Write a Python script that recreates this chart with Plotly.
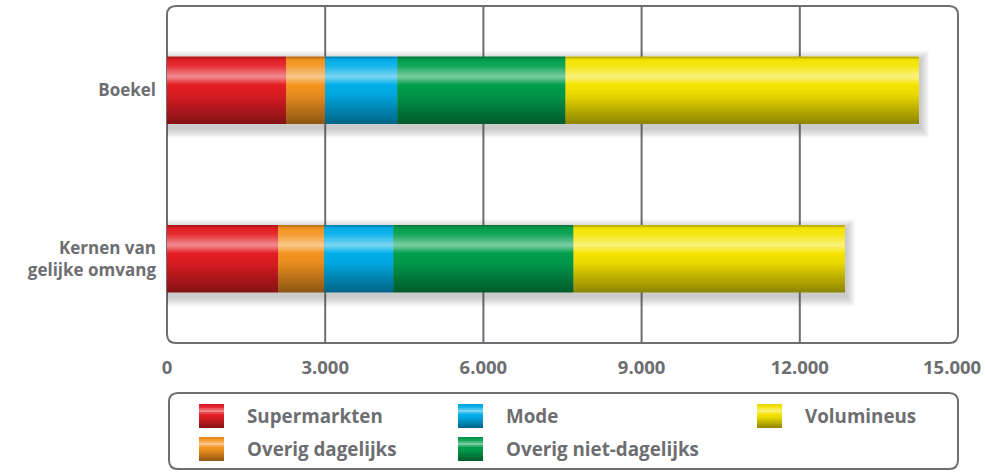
import plotly.graph_objects as go

# Winkelvloeroppervlak (m² wvo) per branchegroep
categories = ["Boekel", "Kernen van<br>gelijke omvang"]
series_names = ["Supermarkten", "Overig dagelijks", "Mode", "Overig niet-dagelijks", "Volumineus"]
supermarkten = [2260, 2108]
overig_dagelijks = [740, 873]
mode = [1367, 1310]
overig_niet_dagelijks = [3190, 3418]
volumineus = [6702, 5145]
tick_values = [0, 3000, 6000, 9000, 12000, 15000]

series_values = [supermarkten, overig_dagelijks, mode, overig_niet_dagelijks, volumineus]
base_colors = ["#e31e24", "#f39420", "#00aee9", "#009e4c", "#f5e400"]

GRAY = "#6d6e71"
FONT = "Open Sans"
TICK_FONT = dict(family=FONT, size=18.5, color=GRAY, weight=700)

# Plot area geometry in pixels (for converting layout sizes)
W, H = 985, 472
ML, MR, MT, MB = 167, 27, 6, 129
PW, PH = W - ML - MR, H - MT - MB


def hex_rgb(h):
    h = h.lstrip("#")
    return tuple(int(h[i:i + 2], 16) for i in (0, 2, 4))


# Vertical shading profile: + mixes toward white, - toward black
PROFILE = [(0.0, -0.30), (0.05, 0.0), (0.14, 0.08), (0.30, 0.50),
           (0.42, 0.0), (0.55, -0.04), (1.0, -0.42)]


def shade(hexcol, t):
    for (t0, a0), (t1, a1) in zip(PROFILE[:-1], PROFILE[1:]):
        if t0 <= t <= t1:
            a = a0 + (a1 - a0) * (t - t0) / (t1 - t0)
            break
    else:
        a = PROFILE[-1][1]
    r, g, b = hex_rgb(hexcol)
    if a >= 0:
        r, g, b = (c + (255 - c) * a for c in (r, g, b))
    else:
        r, g, b = (c * (1 + a) for c in (r, g, b))
    return "rgb(%d,%d,%d)" % (round(r), round(g), round(b))


def nl_number(v):
    return f"{v:,}".replace(",", ".")


fig = go.Figure()

# cumulative starts per segment
n_cat = len(categories)
starts = []
acc = [0] * n_cat
for vals in series_values:
    starts.append(list(acc))
    acc = [a + v for a, v in zip(acc, vals)]
totals = acc

BAR_W = 0.4
px_y = 1.0 / 169.0          # one pixel in category units
px_x = 3000.0 / 158.0       # one pixel in value units

# soft drop shadow
for j in range(1, 8):
    e = j * 1.4 * px_y
    fig.add_trace(go.Bar(
        y=categories, x=[t + (1 + j * 1.3) * px_x for t in totals], base=[0] * n_cat,
        orientation="h", width=BAR_W + 2 * e, offset=-BAR_W / 2 - e + 4 * px_y,
        marker=dict(color="rgba(60,60,60,0.045)", line=dict(width=0)),
        showlegend=False, hoverinfo="skip"))

# stacked segments drawn as thin horizontal strips to get the glossy gradient
N = 34
step = BAR_W / N
for k in range(N):
    t = (k + 0.5) / N
    ys, xs, bs, cs = [], [], [], []
    for s, vals in enumerate(series_values):
        for c in range(n_cat):
            ys.append(categories[c])
            xs.append(vals[c])
            bs.append(starts[s][c])
            cs.append(shade(base_colors[s], t))
    w = step * (1.6 if k < N - 1 else 1.0)
    fig.add_trace(go.Bar(
        y=ys, x=xs, base=bs, orientation="h",
        width=w, offset=-BAR_W / 2 + k * step,
        marker=dict(color=cs, line=dict(width=0)),
        showlegend=False, hoverinfo="skip"))

shapes = []

# vertical gridlines
for v in tick_values[1:-1]:
    shapes.append(dict(type="line", xref="x", yref="paper", x0=v, x1=v, y0=0, y1=1,
                       line=dict(color=GRAY, width=2), layer="below"))


def rounded_rect(x0, y0, x1, y1, r_px):
    rx, ry = r_px / PW, r_px / PH
    return (f"M {x0 + rx},{y0} L {x1 - rx},{y0} Q {x1},{y0} {x1},{y0 + ry} "
            f"L {x1},{y1 - ry} Q {x1},{y1} {x1 - rx},{y1} L {x0 + rx},{y1} "
            f"Q {x0},{y1} {x0},{y1 - ry} L {x0},{y0 + ry} Q {x0},{y0} {x0 + rx},{y0} Z")


def px2paper(px, py):
    return (px - ML) / PW, (H - MB - py) / PH


# plot frame
shapes.append(dict(type="path", xref="paper", yref="paper",
                   path=rounded_rect(0, 0, 1, 1, 9),
                   line=dict(color=GRAY, width=2), layer="below"))

# legend frame
lx0, ly0 = px2paper(169, 469)
lx1, ly1 = px2paper(958, 393)
shapes.append(dict(type="path", xref="paper", yref="paper",
                   path=rounded_rect(lx0, ly0, lx1, ly1, 9),
                   line=dict(color=GRAY, width=2), layer="above"))

# legend entries: (swatch left px, row center px)
legend_pos = [(199, 416), (199, 449), (458, 416), (458, 449), (757, 416)]
text_dx = 46
SW, SH = 25, 24
annotations = []
for s, name in enumerate(series_names):
    sx, cy = legend_pos[s]
    top = cy - SH / 2
    M = 12
    for k in range(M):
        t = (k + 0.5) / M
        py0 = top + k * SH / M
        py1 = top + (k + 1) * SH / M + (0.6 if k < M - 1 else 0)
        x0p, y0p = px2paper(sx, py1)
        x1p, y1p = px2paper(sx + SW, py0)
        shapes.append(dict(type="rect", xref="paper", yref="paper",
                           x0=x0p, x1=x1p, y0=y0p, y1=y1p,
                           fillcolor=shade(base_colors[s], t), line=dict(width=0),
                           layer="above"))
    axp, ayp = px2paper(sx + text_dx, cy)
    annotations.append(dict(xref="paper", yref="paper", x=axp, y=ayp,
                            xanchor="left", yanchor="middle", showarrow=False,
                            text=name, font=dict(family=FONT, size=18.8, color=GRAY, weight=700)))

# last tick label, nudged left so it stays inside the page
_, ty = px2paper(0, 366)
annotations.append(dict(xref="x", yref="paper", x=tick_values[-1], y=ty,
                        xanchor="center", yanchor="middle", xshift=-6, showarrow=False,
                        text=nl_number(tick_values[-1]), font=TICK_FONT))

fig.update_layout(
    width=W, height=H,
    margin=dict(l=ML, r=MR, t=MT, b=MB, autoexpand=False),
    paper_bgcolor="white", plot_bgcolor="white",
    barmode="overlay",
    showlegend=False,
    shapes=shapes,
    annotations=annotations,
    xaxis=dict(range=[0, 15000], tickvals=tick_values[:-1],
               ticktext=[nl_number(v) for v in tick_values[:-1]],
               showgrid=False, zeroline=False, showline=False, ticks="",
               ticklabelstandoff=11, automargin=False,
               tickfont=TICK_FONT, fixedrange=True),
    yaxis=dict(type="category", categoryarray=categories, range=[1.5, -0.5],
               showgrid=False, zeroline=False, showline=False, ticks="",
               ticklabelstandoff=10, automargin=False,
               tickfont=dict(family=FONT, size=17, color=GRAY, weight=700),
               fixedrange=True),
)

fig.write_html("out.html")
